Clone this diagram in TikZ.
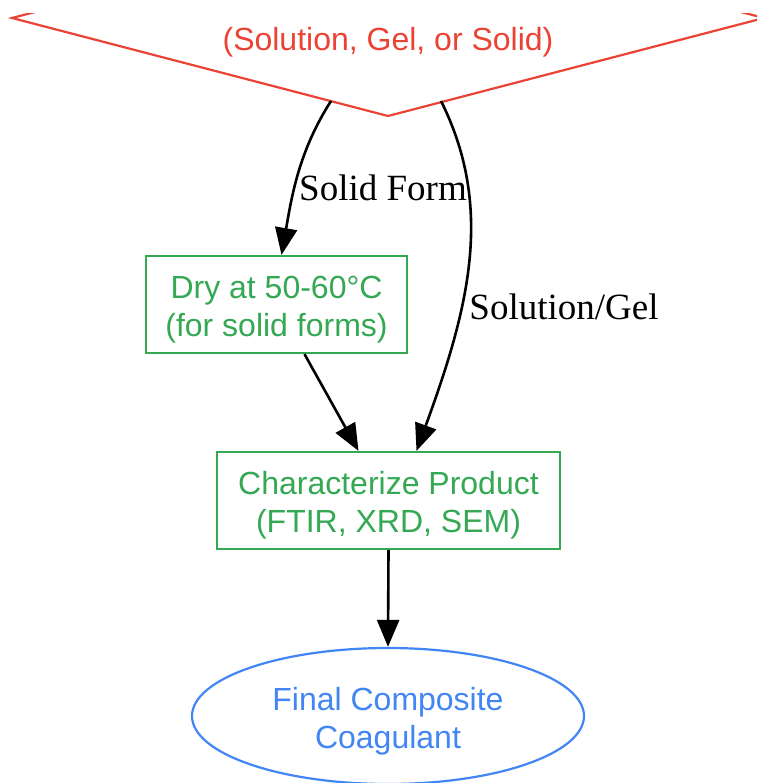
\documentclass[tikz,border=0pt]{standalone}
\usepackage{fontspec}
\setmainfont{Liberation Serif}
\newfontfamily\nodefont{Liberation Sans}
\usetikzlibrary{arrows.meta,shapes.geometric}
\definecolor{gred}{HTML}{EA4335}
\definecolor{ggreen}{HTML}{34A853}
\definecolor{gblue}{HTML}{4285F4}
\tikzset{
  boxnode/.style={draw=ggreen,line width=2.2pt,inner sep=0pt},
  endnode/.style={draw=gblue,line width=2.2pt,ellipse,inner sep=0pt,
    minimum width=392pt,minimum height=136pt},
  sanstext/.style={inner sep=0pt,align=center,font=\nodefont\fontsize{32}{38}\selectfont},
  conn/.style={draw=black,line width=2.6pt,-{Triangle[length=27pt,width=22pt]}},
  edgelabel/.style={font=\fontsize{37}{44}\selectfont,inner sep=0pt}
}
\begin{document}
\begin{tikzpicture}[x=1pt,y=-1pt]
\useasboundingbox (0,0) rectangle (757,783);
\begin{scope}
\clip (0,14) rectangle (757,783);
\draw[gred,line width=2.2pt] (12,18) -- (388,116) -- (764,18) -- (388,-80) -- cycle;
\end{scope}
\node[sanstext,text=gred] (src) at (388,42) {(Solution, Gel, or Solid)};
\coordinate (s1) at (331,101);
\coordinate (s2) at (441,101);
\node[boxnode,minimum width=261pt,minimum height=97pt] (dry) at (276.5,304.5) {};
\node[sanstext,text=ggreen] (dryt) at ([yshift=-5pt]dry.center) {Dry at 50-60°C\\(for solid forms)};
\node[boxnode,minimum width=343pt,minimum height=97pt] (char) at (388.5,500.5) {};
\node[sanstext,text=ggreen] (chart) at ([yshift=-5pt]char.center) {Characterize Product\\(FTIR, XRD, SEM)};
\node[endnode] (fin) at (388,716) {};
\node[sanstext,text=gblue] (fint) at ([yshift=-5pt]fin.center) {Final Composite\\Coagulant};
\draw[conn] (s1) .. controls (299,151) and (292,195) .. ([xshift=5pt]dry.north);
\draw[conn] (s2) .. controls (495,209) and (468,310) .. ([xshift=28pt]char.north);
\draw[conn] ([xshift=28pt]dry.south) -- ([xshift=-30pt]char.north);
\draw[conn] (char.south) -- (fin.north);
\node[edgelabel] (l1) at (383,188) {Solid Form};
\node[edgelabel] (l2) at (564,307) {Solution/Gel};
\end{tikzpicture}
\end{document}
